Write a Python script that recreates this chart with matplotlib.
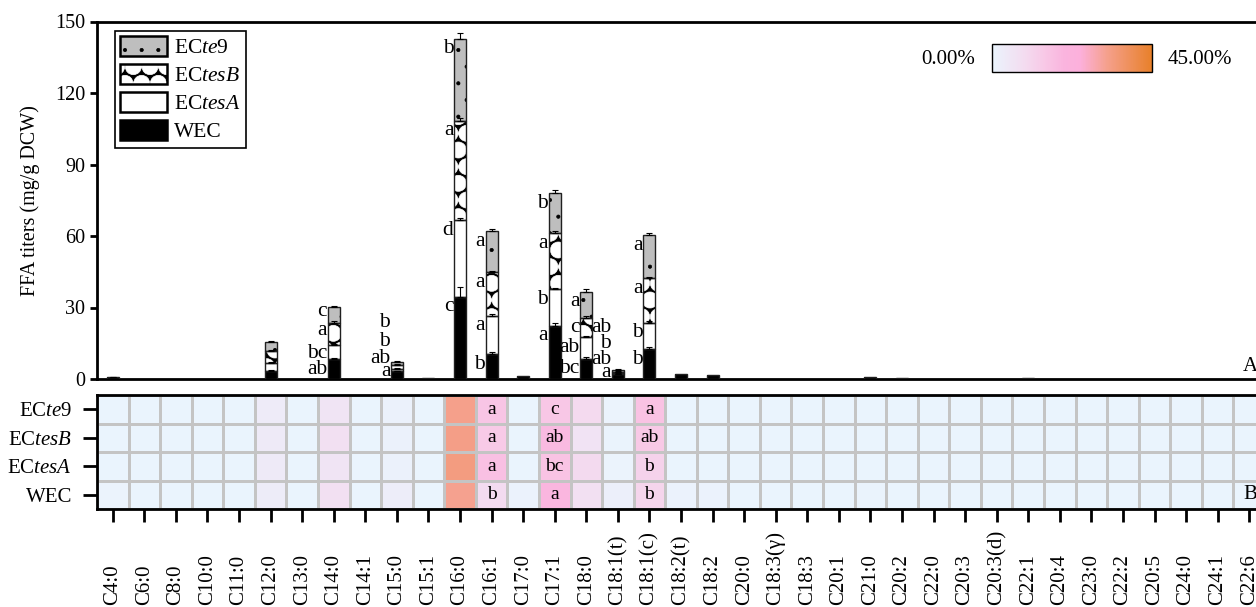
import numpy as np
import matplotlib
matplotlib.use('Agg')
import matplotlib.pyplot as plt
import matplotlib.hatch
from matplotlib.colors import LinearSegmentedColormap, Normalize
from matplotlib.cm import ScalarMappable
from matplotlib.patches import Patch

plt.rcParams['font.family'] = ['Liberation Serif', 'DejaVu Serif']
plt.rcParams['mathtext.fontset'] = 'custom'
plt.rcParams['mathtext.rm'] = 'Liberation Serif'
plt.rcParams['mathtext.it'] = 'Liberation Serif:italic'
plt.rcParams['hatch.linewidth'] = 0.5

# big hatch circles drawn filled and larger (white circles on black for ECtesB)
matplotlib.hatch.LargeCircles.filled = True
matplotlib.hatch.LargeCircles.size = 0.48

# ---------------- data ----------------
acids = ['C4:0', 'C6:0', 'C8:0', 'C10:0', 'C11:0', 'C12:0', 'C13:0', 'C14:0', 'C14:1',
         'C15:0', 'C15:1', 'C16:0', 'C16:1', 'C17:0', 'C17:1', 'C18:0', 'C18:1(t)',
         'C18:1(c)', 'C18:2(t)', 'C18:2', 'C20:0', 'C18:3(γ)', 'C18:3', 'C20:1', 'C21:0',
         'C20:2', 'C22:0', 'C20:3', 'C20:3(d)', 'C22:1', 'C20:4', 'C23:0', 'C22:2',
         'C20:5', 'C24:0', 'C24:1', 'C22:6']

# titers (mg/g DCW), stacked WEC -> ECtesA -> ECtesB -> ECte9
wec = [0.8, 0, 0, 0, 0, 3.4, 0, 8.4, 0, 3.2, 0.3, 34.5, 10.4, 1.3, 22.3, 8.5, 2.0,
       12.5, 2.3, 1.8, 0, 0, 0, 0, 0.7, 0.3, 0, 0, 0, 0.6, 0, 0, 0, 0, 0, 0, 0]
tesa = [0, 0, 0, 0, 0, 3.5, 0, 5.9, 0, 1.2, 0, 32.2, 16.1, 0, 15.4, 9.1, 0.6,
        11.2, 0, 0, 0, 0, 0, 0, 0, 0, 0, 0, 0, 0, 0, 0, 0, 0, 0, 0, 0]
tesb = [0, 0, 0, 0, 0, 5.0, 0, 9.4, 0, 1.5, 0, 41.7, 18.2, 0, 23.5, 8.2, 0.5,
        18.5, 0, 0, 0, 0, 0, 0, 0, 0, 0, 0, 0, 0, 0, 0, 0, 0, 0, 0, 0]
te9 = [0, 0, 0, 0, 0, 3.7, 0, 6.7, 0, 1.4, 0, 34.3, 17.2, 0, 16.7, 10.8, 0.8,
       18.2, 0, 0, 0, 0, 0, 0, 0, 0, 0, 0, 0, 0, 0, 0, 0, 0, 0, 0, 0]

wec_err = [0.2, 0, 0, 0, 0, 0.3, 0, 0.6, 0, 0.3, 0, 4.0, 0.8, 0, 1.0, 0.6, 0.3,
           1.0, 0, 0, 0, 0, 0, 0, 0, 0, 0, 0, 0, 0, 0, 0, 0, 0, 0, 0, 0]
tesa_err = [0, 0, 0, 0, 0, 0.3, 0, 0.5, 0, 0.2, 0, 1.0, 0.6, 0, 0.6, 0.5, 0.2,
            0.8, 0, 0, 0, 0, 0, 0, 0, 0, 0, 0, 0, 0, 0, 0, 0, 0, 0, 0, 0]
tesb_err = [0, 0, 0, 0, 0, 0.3, 0, 0.5, 0, 0.2, 0, 1.0, 0.6, 0, 0.8, 0.5, 0.2,
            0.8, 0, 0, 0, 0, 0, 0, 0, 0, 0, 0, 0, 0, 0, 0, 0, 0, 0, 0, 0]
te9_err = [0, 0, 0, 0, 0, 0.3, 0, 0.4, 0, 0.2, 0, 2.3, 1.0, 0, 1.5, 1.2, 0.3,
           1.0, 0, 0, 0, 0, 0, 0, 0, 0, 0, 0, 0, 0, 0, 0, 0, 0, 0, 0, 0]

# significance letters on the bars (WEC, ECtesA, ECtesB, ECte9)
bar_letters = {
    'C14:0': ['ab', 'bc', 'a', 'c'],
    'C15:0': ['a', 'ab', 'b', 'b'],
    'C16:0': ['c', 'd', 'a', 'b'],
    'C16:1': ['b', 'a', 'a', 'a'],
    'C17:1': ['a', 'b', 'a', 'b'],
    'C18:0': ['bc', 'ab', 'c', 'a'],
    'C18:1(t)': ['a', 'ab', 'b', 'ab'],
    'C18:1(c)': ['b', 'b', 'a', 'a'],
}

# proportion of each fatty acid (%) for the heatmap
wec_pct = [0.7, 0, 0, 0, 0, 3.0, 0, 7.4, 0.2, 2.8, 0.3, 32.0, 9.2, 1.0, 19.7, 7.5, 1.8,
           11.1, 1.0, 0.8, 0, 0, 0, 0, 0.4, 0.2, 0, 0, 0, 0.3, 0, 0, 0, 0, 0, 0, 0]
tesa_pct = [0.2, 0, 0, 0, 0, 3.7, 0, 6.2, 0.2, 1.3, 0.1, 33.8, 16.9, 0.3, 16.2, 9.6, 0.6,
            11.8, 0.3, 0.3, 0, 0, 0, 0, 0.1, 0, 0, 0, 0, 0.1, 0, 0, 0, 0, 0, 0, 0]
tesb_pct = [0.2, 0, 0, 0, 0, 4.0, 0, 7.4, 0.2, 1.2, 0.1, 33.0, 14.4, 0.3, 18.6, 6.5, 0.4,
            14.6, 0.3, 0.3, 0, 0, 0, 0, 0.1, 0, 0, 0, 0, 0.1, 0, 0, 0, 0, 0, 0, 0]
te9_pct = [0.2, 0, 0, 0, 0, 3.4, 0, 6.1, 0.2, 1.3, 0.1, 32.5, 15.7, 0.3, 15.2, 9.8, 0.7,
           16.6, 0.3, 0.3, 0, 0, 0, 0, 0.1, 0, 0, 0, 0, 0.1, 0, 0, 0, 0, 0, 0, 0]

heat_rows = [r'EC$\it{te9}$', r'EC$\it{tesB}$', r'EC$\it{tesA}$', 'WEC']
# letters in heatmap cells, top row to bottom row
heat_letters = {
    'C16:1': ['a', 'a', 'a', 'b'],
    'C17:1': ['c', 'ab', 'bc', 'a'],
    'C18:1(c)': ['a', 'ab', 'b', 'b'],
}

# ---------------- figure ----------------
W, H = 1256, 607
fig = plt.figure(figsize=(W / 100, H / 100), dpi=100)

left = 97 / W
width = (1265 - 97) / W
ax = fig.add_axes([left, 1 - 379 / H, width, (379 - 21.5) / H])
axh = fig.add_axes([left, 1 - 509 / H, width, (509 - 395) / H])

n = len(acids)
x = np.arange(n)
bw = 0.38

styles = [
    (wec, wec_err, 'black', 'black', None),
    (tesa, tesa_err, 'white', 'black', None),
    (tesb, tesb_err, 'black', 'white', 'O'),
    (te9, te9_err, '#BEBEBE', 'black', '.'),
]

bottom = np.zeros(n)
tops = []
for vals, err, face, hcol, hatch in styles:
    vals = np.array(vals, dtype=float)
    err = np.array(err, dtype=float)
    m = vals > 0
    ax.bar(x[m], vals[m], bw, bottom=bottom[m], color=face, edgecolor=hcol,
           hatch=hatch, linewidth=0, zorder=2)
    ax.bar(x[m], vals[m], bw, bottom=bottom[m], fill=False, edgecolor='#202020',
           linewidth=1.0, zorder=3)
    top = bottom + vals
    me = err > 0
    ax.errorbar(x[me], top[me], yerr=[np.zeros(me.sum()), err[me]], fmt='none',
                ecolor='black', elinewidth=0.8, capsize=2.5, capthick=0.8, zorder=4)
    tops.append(top)
    bottom = top

# crowded small bars: letters stacked above each other
label_y = {
    'C14:0': [3.8, 10.8, 20.2, 28.2],
    'C15:0': [3.1, 8.4, 15.6, 23.5],
    'C18:1(t)': [2.9, 8.0, 15.0, 21.8],
}
for name, letters in bar_letters.items():
    i = acids.index(name)
    for k, let in enumerate(letters):
        y = label_y[name][k] if name in label_y else tops[k][i] - 4.2
        ax.text(i - bw / 2 - 0.02, y, let, ha='right', va='center', fontsize=15.5)

ax.set_xlim(-0.5, n - 0.5)
ax.set_ylim(0, 150)
ax.set_yticks([0, 30, 60, 90, 120, 150])
ax.tick_params(axis='y', labelsize=14.5, length=5, width=2)
ax.set_xticks([])
ax.spines['right'].set_visible(False)
for s in ['left', 'top', 'bottom']:
    ax.spines[s].set_linewidth(2)
ax.set_ylabel('FFA titers (mg/g DCW)', fontsize=14.5, labelpad=11)
ax.text(35.8, 1.2, 'A', ha='left', va='bottom', fontsize=15)

handles = [
    (Patch(facecolor='#BEBEBE', edgecolor='black', hatch='.', linewidth=0),
     Patch(fill=False, edgecolor='black', linewidth=1.8)),
    (Patch(facecolor='black', edgecolor='white', hatch='O', linewidth=0),
     Patch(fill=False, edgecolor='black', linewidth=1.8)),
    Patch(facecolor='white', edgecolor='black', linewidth=1.8),
    Patch(facecolor='black', edgecolor='black', linewidth=1.8),
]
leg = ax.legend(handles, [r'EC$\it{te9}$', r'EC$\it{tesB}$', r'EC$\it{tesA}$', 'WEC'],
                loc='upper left', bbox_to_anchor=(115 / W, 1 - 31 / H),
                bbox_transform=fig.transFigure, borderaxespad=0, fontsize=15.5,
                handlelength=2.15, handleheight=1.0, labelspacing=0.28,
                handletextpad=0.35, borderpad=0.25, fancybox=False, framealpha=1)
leg.get_frame().set_edgecolor('black')
leg.get_frame().set_linewidth(1.2)

# heatmap
cmap = LinearSegmentedColormap.from_list('pct', [
    (0.0, '#EAF4FD'), (0.1, '#EFE8F6'), (0.2, '#F3DCF0'), (0.33, '#F8C8E6'),
    (0.45, '#FAB4DE'), (0.55, '#FCB0DC'), (0.72, '#F5A08C'), (1.0, '#E8802A')])
norm = Normalize(0, 45)
hm = np.array([te9_pct, tesb_pct, tesa_pct, wec_pct])
axh.pcolormesh(np.arange(n + 1) - 0.5, np.arange(5) - 0.5, hm, cmap=cmap, norm=norm,
               edgecolors='#C4C4C4', linewidth=0.8)
axh.set_xlim(-0.5, n - 0.5)
axh.set_ylim(3.5, -0.5)
for name, letters in heat_letters.items():
    i = acids.index(name)
    for r, let in enumerate(letters):
        axh.text(i, r, let, ha='center', va='center', fontsize=14)
axh.text(35.8, 3, 'B', ha='left', va='center', fontsize=15)
axh.set_yticks(range(4))
axh.set_yticklabels(heat_rows, fontsize=15)
axh.set_xticks(x)
axh.set_xticklabels(acids, rotation=90, va='bottom', ha='center', fontsize=15)
axh.tick_params(axis='y', length=10, width=2, pad=8)
axh.tick_params(axis='x', length=9, width=2, pad=60)
for s in axh.spines.values():
    s.set_linewidth(2)

# colour scale
cax = fig.add_axes([992 / W, 1 - 72 / H, 160 / W, 28 / H])
cb = fig.colorbar(ScalarMappable(norm=norm, cmap=cmap), cax=cax, orientation='horizontal')
cb.set_ticks([])
cb.outline.set_linewidth(1)
fig.text(975 / W, 1 - 59 / H, '0.00%', ha='right', va='center', fontsize=15)
fig.text(1168 / W, 1 - 59 / H, '45.00%', ha='left', va='center', fontsize=15)

fig.savefig('out.png', dpi=100)
